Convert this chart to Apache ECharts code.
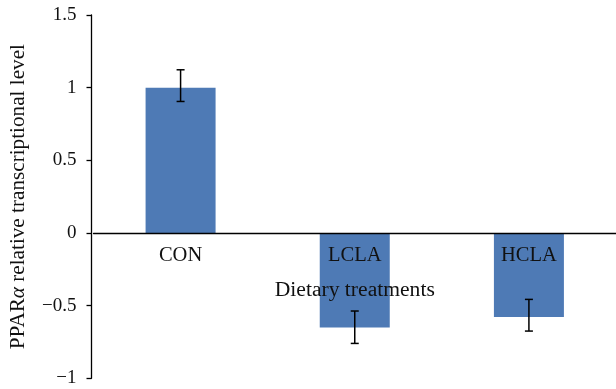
<!DOCTYPE html>
<html>
<head>
<meta charset="utf-8">
<style>
  html, body { margin: 0; padding: 0; background: #fff; }
  #chart { width: 616px; height: 389px; }
</style>
<script src="https://cdn.jsdelivr.net/npm/echarts@6/dist/echarts.min.js"></script>
</head>
<body>
<div id="chart"></div>
<script>
// Treatment groups and PPARα relative transcription (mean with error range)
const categories = ['CON', 'LCLA', 'HCLA'];
const means = [1.0, -0.65, -0.578];
const errHigh = [1.123, -0.537, -0.457];
const errLow = [0.905, -0.76, -0.675];
const yTicks = { min: -1, max: 1.5, interval: 0.5 };

const FONT = 'Liberation Serif';
const GRID_TOP = 15, GRID_BOTTOM = 10.7, HEIGHT = 389;
// the category axis sits on the zero line; shift it up from the grid bottom
const zeroShift = -(HEIGHT - GRID_TOP - GRID_BOTTOM) * (0 - yTicks.min) / (yTicks.max - yTicks.min);

const chart = echarts.init(document.getElementById('chart'), null, { renderer: 'canvas' });

chart.setOption({
  animation: false,
  grid: { left: 93.5, right: 0, top: GRID_TOP, bottom: GRID_BOTTOM, outerBoundsMode: 'none', containLabel: false },
  xAxis: {
    type: 'category',
    data: categories,
    position: 'bottom',
    offset: zeroShift,
    z: 10,
    name: 'Dietary treatments',
    nameLocation: 'middle',
    nameGap: 46,
    nameTextStyle: { fontFamily: FONT, fontSize: 21.6, color: '#111' },
    axisLine: { onZero: false, lineStyle: { color: '#000', width: 1.3 } },
    axisTick: { show: false },
    axisLabel: { fontFamily: FONT, fontSize: 20.5, color: '#111', margin: 12 }
  },
  yAxis: {
    type: 'value',
    min: yTicks.min,
    max: yTicks.max,
    interval: yTicks.interval,
    offset: 2,
    name: '{n|PPAR}{a|α}{n| relative transcriptional level}',
    nameLocation: 'middle',
    nameGap: 63,
    nameRotate: 90,
    nameTextStyle: {
      rich: {
        n: { fontFamily: FONT, fontSize: 21.2, color: '#111' },
        a: { fontFamily: FONT, fontSize: 21.2, color: '#111', fontStyle: 'italic' }
      }
    },
    splitLine: { show: false },
    axisLine: { show: true, lineStyle: { color: '#000', width: 1.3 } },
    axisTick: { show: true, inside: false, length: 5, lineStyle: { color: '#000', width: 1.3 } },
    axisLabel: {
      fontFamily: FONT, fontSize: 19, color: '#111', margin: 15,
      formatter: v => String(v).replace('-', '\u2212')
    }
  },
  series: [
    {
      type: 'bar',
      data: means,
      barWidth: 70,
      itemStyle: { color: '#4e7ab5' }
    },
    {
      type: 'custom',
      data: categories.map((c, i) => [i, errLow[i], errHigh[i]]),
      renderItem: (params, api) => {
        const lo = api.coord([api.value(0), api.value(1)]);
        const hi = api.coord([api.value(0), api.value(2)]);
        const x = lo[0];
        const cap = 4;
        const style = { stroke: '#000', lineWidth: 1.5 };
        return {
          type: 'group',
          children: [
            { type: 'line', shape: { x1: x, y1: lo[1], x2: x, y2: hi[1] }, style },
            { type: 'line', shape: { x1: x - cap, y1: lo[1], x2: x + cap, y2: lo[1] }, style },
            { type: 'line', shape: { x1: x - cap, y1: hi[1], x2: x + cap, y2: hi[1] }, style }
          ]
        };
      },
      z: 5
    }
  ]
});
</script>
</body>
</html>
